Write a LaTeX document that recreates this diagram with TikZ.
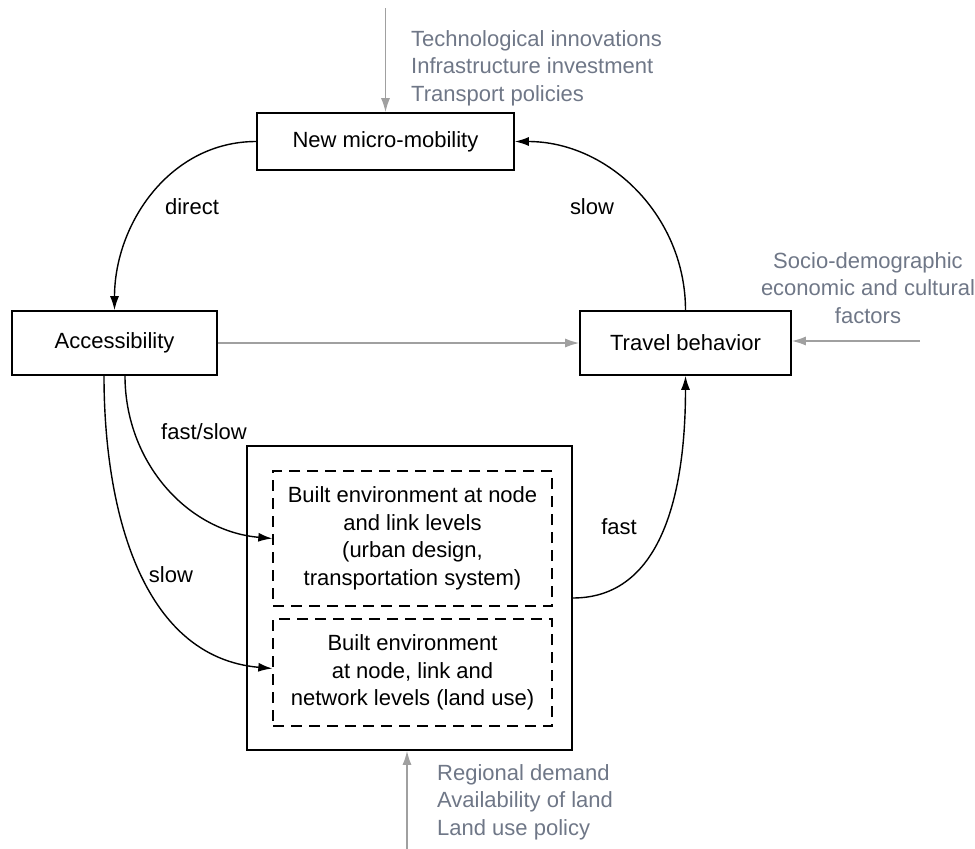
\documentclass[tikz,border=0pt]{standalone}
\usepackage{fontspec}
\setmainfont{Liberation Sans}
\usepackage{xcolor}
\usepackage{tikz}
\usetikzlibrary{arrows.meta,positioning,calc}
\definecolor{factorgray}{HTML}{6F7787}
\definecolor{linkgray}{HTML}{A0A0A0}

\begin{document}
\begin{tikzpicture}[
			x = 1pt, y = -1pt,
			every node/.style = {font=\fontsize{22}{27.5}\selectfont},
			block/.style = {draw, line width=1.6pt, inner sep=0pt},
			envbox/.style = {draw, line width=1.4pt, dash pattern=on 11pt off 7pt, align=center, inner sep=0pt},
			link/.style = {line width=1.4pt, -{Latex[length=14pt,width=9pt]}},
			factor/.style = {linkgray, line width=1.4pt, -{Latex[length=14pt,width=9pt]}},
			factortext/.style = {factorgray, inner sep=0pt},
			]
			\useasboundingbox (0,0) rectangle (975,849);

			\node[block, minimum width=257, minimum height=57] (nmm) at (385.5,141.5) {New micro-mobility};
			\node[block, minimum width=205, minimum height=64] (acc) at (114.5,343) {Accessibility};
			\node[block, minimum width=211, minimum height=64] (tb) at (685.5,343) {Travel behavior};
			\node[block, minimum width=325, minimum height=304] (be) at (409.5,598) {};
			\node[envbox, minimum width=279, minimum height=135] (benl) at (412.5,538.5) {Built environment at node\\and link levels\\(urban design,\\transportation system)};
			\node[envbox, minimum width=279, minimum height=107] (benln) at (412.5,672.5) {Built environment\\at node, link and\\network levels (land use)};

			% outside factors
			\node[factortext, anchor=west, align=left] (techf) at (411,68) {Technological innovations\\Infrastructure investment\\Transport policies};
			\node[factortext, align=center] (socf) at (868,288) {Socio-demographic\\economic and cultural\\factors};
			\node[factortext, anchor=west, align=left] (landf) at (437,802) {Regional demand\\Availability of land\\Land use policy};

			\coordinate (techin) at (385.5,8);
			\coordinate (socin) at (920,341);
			\coordinate (landin) at (407,849);

			\draw[factor] (techin) -- (nmm.north);
			\draw[factor] (socin) -- (socin -| tb.east);
			\draw[factor] (landin) -- (landin |- be.south);
			\draw[factor] (acc.east) -- (tb.west);

			% links
			\draw[link] (nmm.west) to[out=180,in=90] (acc.north);
			\draw[link] (tb.north) to[out=90,in=0] (nmm.east);
			\draw[link] (be.east) to[out=0,in=-90] (tb.south);
			\draw[link] ($(acc.south)+(10.5,0)$) to[out=-90,in=175] (benl.west);
			\draw[link] ($(acc.south)+(-10.5,0)$) to[out=-90,in=175] ($(benln.west)+(0,-4)$);

			\node (ldirect) at (192,207) {direct};
			\node (lslowtop) at (592,207) {slow};
			\node (lfast) at (619,527) {fast};
			\node (lfastslow) at (204,432) {fast/slow};
			\node (lslow) at (171,575) {slow};

		\end{tikzpicture}
\end{document}
